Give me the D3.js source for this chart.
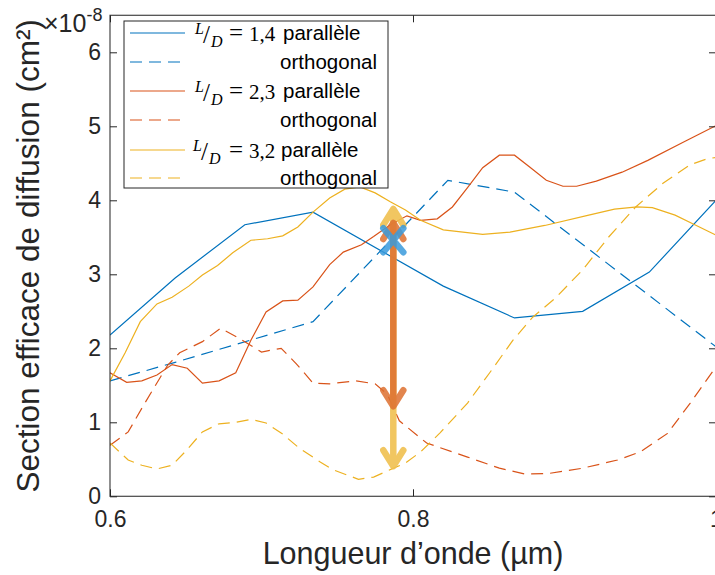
<!DOCTYPE html>
<html><head><meta charset="utf-8">
<script src="https://cdn.jsdelivr.net/npm/d3@7"></script>
<style>body{margin:0;background:#fff;} svg{display:block;}</style>
</head><body><svg id="c" width="715" height="575"></svg>
<script>
// ---------- data (wavelength in µm, cross-section in 1e-8 cm²) ----------
const xTicks = [0.6, 0.8, 1.0];
const xTickLabels = ["0.6", "0.8", "1"];
const yTicks = [0, 1, 2, 3, 4, 5, 6];
const yTickLabels = ["0", "1", "2", "3", "4", "5", "6"];
const ratios = ["1,4", "2,3", "3,2"];

const blueParallel = [[0.600,2.18],[0.643,2.95],[0.689,3.67],[0.734,3.84],[0.820,2.84],[0.867,2.41],[0.912,2.50],[0.956,3.03],[1.000,4.00]];
const blueOrthogonal = [[0.600,1.56],[0.643,1.81],[0.734,2.36],[0.823,4.27],[0.867,4.11],[1.000,2.02]];
const orangeParallel = [[0.600,1.67],[0.611,1.54],[0.621,1.56],[0.631,1.64],[0.641,1.78],[0.651,1.73],[0.661,1.53],[0.672,1.56],[0.683,1.67],[0.693,2.11],[0.703,2.49],[0.714,2.64],[0.724,2.65],[0.734,2.83],[0.745,3.13],[0.754,3.30],[0.766,3.40],[0.774,3.51],[0.785,3.67],[0.796,3.79],[0.805,3.73],[0.816,3.75],[0.826,3.91],[0.836,4.17],[0.846,4.44],[0.857,4.61],[0.867,4.61],[0.877,4.45],[0.888,4.27],[0.899,4.19],[0.908,4.19],[0.921,4.26],[0.938,4.38],[0.955,4.54],[0.978,4.78],[1.000,5.01]];
const orangeOrthogonal = [[0.600,0.69],[0.612,0.87],[0.623,1.26],[0.638,1.77],[0.646,1.94],[0.661,2.09],[0.673,2.27],[0.684,2.15],[0.700,1.95],[0.713,2.00],[0.723,1.79],[0.734,1.53],[0.745,1.52],[0.762,1.56],[0.775,1.52],[0.783,1.38],[0.791,1.02],[0.809,0.72],[0.836,0.53],[0.857,0.38],[0.874,0.30],[0.890,0.31],[0.912,0.38],[0.935,0.49],[0.950,0.60],[0.968,0.85],[0.983,1.26],[1.000,1.75]];
const yellowParallel = [[0.600,1.56],[0.610,1.94],[0.620,2.36],[0.631,2.60],[0.641,2.69],[0.652,2.84],[0.661,2.99],[0.671,3.12],[0.681,3.29],[0.693,3.46],[0.704,3.48],[0.714,3.52],[0.724,3.64],[0.734,3.84],[0.745,4.03],[0.755,4.15],[0.765,4.18],[0.775,4.10],[0.785,3.98],[0.795,3.87],[0.805,3.73],[0.820,3.60],[0.846,3.54],[0.864,3.57],[0.887,3.66],[0.916,3.80],[0.933,3.88],[0.948,3.91],[0.958,3.90],[0.973,3.80],[0.986,3.67],[1.000,3.53]];
const yellowOrthogonal = [[0.600,0.72],[0.612,0.49],[0.621,0.42],[0.631,0.37],[0.641,0.42],[0.650,0.61],[0.661,0.87],[0.672,0.98],[0.683,1.00],[0.693,1.04],[0.703,0.99],[0.714,0.84],[0.725,0.65],[0.739,0.46],[0.747,0.36],[0.764,0.23],[0.774,0.26],[0.786,0.37],[0.795,0.45],[0.805,0.60],[0.818,0.86],[0.836,1.26],[0.851,1.68],[0.866,2.11],[0.879,2.42],[0.894,2.68],[0.912,3.06],[0.929,3.50],[0.947,3.91],[0.965,4.23],[0.983,4.48],[0.994,4.56],[1.000,4.58]];

// annotation at 785 nm
const markWavelength = 0.787;
const yellowArrow = [3.91, 0.38];
const orangeArrow = [3.72, 1.19];
const blueCross = 3.46;

const colors = ["#0072BD", "#D95319", "#EDB120"];

// ---------- scales ----------
const svg = d3.select("#c");
const L = 110, R = 716, T = 15.3, B = 496.3;
const x = d3.scaleLinear().domain([0.6, 1.0]).range([L, R]);
const y = d3.scaleLinear().domain([0, 6.5]).range([B, T]);

svg.append("defs").append("clipPath").attr("id", "clip")
  .append("rect").attr("x", L).attr("y", T).attr("width", R - L).attr("height", B - T);

const series = [
  {data: blueParallel, color: colors[0], dash: null},
  {data: blueOrthogonal, color: colors[0], dash: "12,7"},
  {data: orangeParallel, color: colors[1], dash: null},
  {data: orangeOrthogonal, color: colors[1], dash: "12,7"},
  {data: yellowParallel, color: colors[2], dash: null},
  {data: yellowOrthogonal, color: colors[2], dash: "12,7"}
];

const line = d3.line().x(d => x(d[0])).y(d => y(d[1]));
const g = svg.append("g").attr("clip-path", "url(#clip)");
series.forEach(s => {
  g.append("path").attr("d", line(s.data)).attr("fill", "none")
    .attr("stroke", s.color).attr("stroke-width", 1.2)
    .attr("stroke-dasharray", s.dash);
});

// ---------- axes ----------
const axisColor = "#262626";
const fontSans = "'Liberation Sans', Arial, sans-serif";
function styleAxis(sel, showText) {
  sel.select(".domain").remove();
  sel.selectAll(".tick line").attr("stroke", axisColor).attr("stroke-width", 1);
  sel.selectAll(".tick text").attr("fill", axisColor).style("font-family", fontSans).style("font-size", "23px");
  if (!showText) sel.selectAll(".tick text").remove();
}
styleAxis(svg.append("g").attr("transform", `translate(0,${B})`)
  .call(d3.axisBottom(x).tickValues(xTicks).tickFormat((d, i) => xTickLabels[i]).tickSizeInner(-7).tickSizeOuter(0).tickPadding(14)), true);
styleAxis(svg.append("g").attr("transform", `translate(0,${T})`)
  .call(d3.axisTop(x).tickValues(xTicks).tickSizeInner(-7).tickSizeOuter(0)), false);
styleAxis(svg.append("g").attr("transform", `translate(${L},0)`)
  .call(d3.axisLeft(y).tickValues(yTicks).tickFormat((d, i) => yTickLabels[i]).tickSizeInner(-7).tickSizeOuter(0).tickPadding(9)), true);
styleAxis(svg.append("g").attr("transform", `translate(${R},0)`)
  .call(d3.axisRight(y).tickValues(yTicks).tickSizeInner(-7).tickSizeOuter(0)), false);

svg.append("rect").attr("x", L).attr("y", T).attr("width", R - L).attr("height", B - T)
  .attr("fill", "none").attr("stroke", axisColor).attr("stroke-width", 1.2).attr("opacity", 0.85);

// exponent
const ex = svg.append("text").attr("x", 44).attr("y", 32).attr("fill", axisColor)
  .style("font-family", fontSans).style("font-size", "25px");
ex.append("tspan").text("×10");
ex.append("tspan").attr("dy", -11).style("font-size", "18px").text("-8");

// axis labels
svg.append("text").attr("x", (L + R) / 2).attr("y", 564).attr("text-anchor", "middle")
  .attr("fill", axisColor).style("font-family", fontSans).style("font-size", "30.5px").text("Longueur d’onde (µm)");
svg.append("text").attr("transform", `translate(39,${(T + B) / 2}) rotate(-90)`).attr("text-anchor", "middle")
  .attr("fill", axisColor).style("font-family", fontSans).style("font-size", "31.5px").text("Section efficace de diffusion (cm²)");

// ---------- annotation arrows ----------
const ax = x(markWavelength);
function arrow(vals, color, opacity) {
  const g2 = svg.append("g").attr("opacity", opacity);
  const yt = y(vals[0]), yb = y(vals[1]);
  g2.append("line").attr("x1", ax).attr("x2", ax).attr("y1", yt + 3).attr("y2", yb - 3)
    .attr("stroke", color).attr("stroke-width", 6.5);
  const hw = 10, hl = 18;
  g2.append("path").attr("d", `M${ax - hw},${yt + hl} L${ax},${yt + 2} L${ax + hw},${yt + hl}`)
    .attr("fill", "none").attr("stroke", color).attr("stroke-width", 6.5)
    .attr("stroke-linecap", "round").attr("stroke-linejoin", "round");
  g2.append("path").attr("d", `M${ax - hw},${yb - hl} L${ax},${yb - 2} L${ax + hw},${yb - hl}`)
    .attr("fill", "none").attr("stroke", color).attr("stroke-width", 6.5)
    .attr("stroke-linecap", "round").attr("stroke-linejoin", "round");
}
arrow(yellowArrow, "#F0C050", 0.9);
arrow(orangeArrow, "#DE7030", 0.85);
const cy = y(blueCross);
svg.append("path").attr("d", `M${ax - 10},${cy - 12} L${ax + 10},${cy + 12} M${ax + 10},${cy - 12} L${ax - 10},${cy + 12}`)
  .attr("stroke", "#3A9BDC").attr("stroke-width", 6.5).attr("stroke-linecap", "round").attr("opacity", 0.85);

// ---------- legend ----------
const lg = svg.append("g");
lg.append("rect").attr("x", 124).attr("y", 21).attr("width", 264).attr("height", 167)
  .attr("fill", "#fff").attr("stroke", axisColor).attr("stroke-width", 1);
const rowY = [33, 62, 91, 120, 150, 178];
const fontSerif = "'Liberation Serif', 'DejaVu Serif', serif";
series.forEach((s, i) => {
  const ry = rowY[i];
  lg.append("line").attr("x1", 130).attr("x2", 185).attr("y1", ry).attr("y2", ry)
    .attr("stroke", s.color).attr("stroke-width", 1.2).attr("stroke-dasharray", s.dash);
  if (i % 2 === 0) {
    const sx = i === 4 ? -2 : 0;
    lg.append("text").attr("x", 195 + sx).attr("y", ry + 1).attr("fill", "#000")
      .style("font-family", fontSerif).style("font-style", "italic").style("font-size", "16px").text("L");
    lg.append("text").attr("x", 203 + sx).attr("y", ry + 10).attr("fill", "#000")
      .style("font-family", fontSerif).style("font-size", "25px").text("/");
    lg.append("text").attr("x", 211 + sx).attr("y", ry + 14).attr("fill", "#000")
      .style("font-family", fontSerif).style("font-style", "italic").style("font-size", "16px").text("D");
    lg.append("text").attr("x", 229).attr("y", ry + 8).attr("fill", "#000")
      .style("font-family", fontSerif).style("font-size", "25px").text("=");
    lg.append("text").attr("x", 249).attr("y", ry + 8).attr("fill", "#000")
      .style("font-family", fontSerif).style("font-size", "21px").text(ratios[i / 2]);
    lg.append("text").attr("x", 283 - (i === 4 ? 2 : 0)).attr("y", ry + 7).attr("fill", "#000")
      .style("font-family", fontSans).style("font-size", "20.5px").text("parallèle");
  } else {
    lg.append("text").attr("x", 377).attr("y", ry + 7).attr("text-anchor", "end").attr("fill", "#000")
      .style("font-family", fontSans).style("font-size", "20.5px").text("orthogonal");
  }
});
</script></body></html>
